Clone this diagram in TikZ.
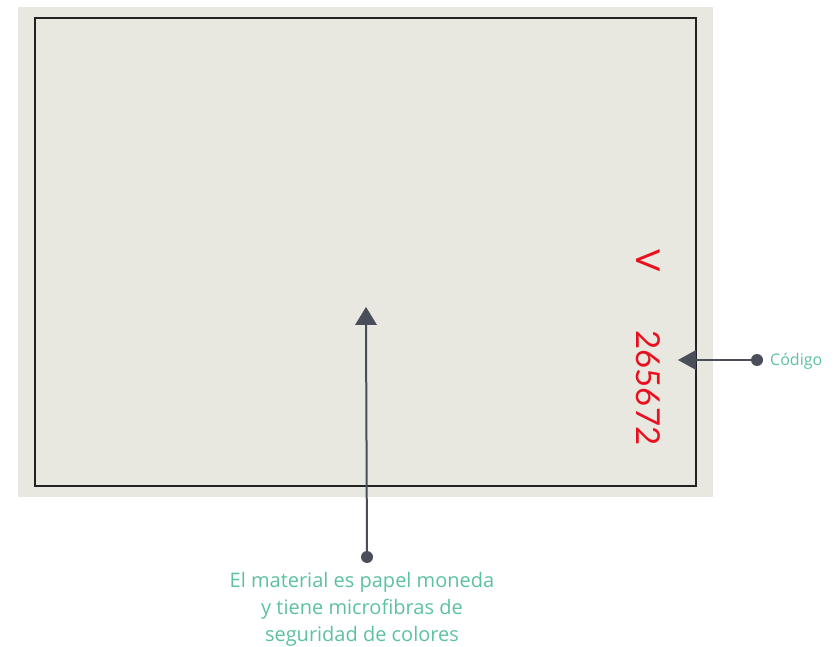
\documentclass[tikz,border=0pt]{standalone}
\usepackage{fontspec}
\setmainfont{Open Sans}
\newfontfamily\codefont{Lato}
\definecolor{paper}{HTML}{E8E7E0}
\definecolor{frame}{HTML}{222222}
\definecolor{pointer}{HTML}{4A4D5A}
\definecolor{teal}{HTML}{5CC1A0}
\definecolor{codered}{HTML}{E8101F}
\tikzset{
  pline/.style={draw=pointer, line width=2pt},
  ptip/.style={fill=pointer, draw=none},
  pdot/.style={circle, fill=pointer, minimum size=12pt, inner sep=0pt},
  label/.style={text=teal, align=center, inner sep=0pt},
  redtxt/.style={text=codered, font=\codefont\fontsize{33}{33}\selectfont, rotate=-90, inner sep=0pt}
}
\begin{document}
\begin{tikzpicture}[x=1pt,y=-1pt]
\useasboundingbox (0,0) rectangle (839,647);
\fill[paper] (18,7) rectangle (713,497);
\draw[frame, line width=2.8pt] (35,18) rectangle (696,486);
% red code
\node[redtxt] (v) at (648,261) {V};
\node[redtxt] (num) at (648,388) {265672};
% central pointer
\coordinate (tipA) at (366,307);
\node[pdot] (dotA) at (367,557) {};
\fill[ptip] (366,307) -- (377,325) -- (355,325) -- cycle;
\draw[pline] (dotA.center) -- (366,325);
\node[label, font=\fontsize{20}{27}\selectfont, anchor=north] (matlbl) at (362,572) {El material es papel moneda\\y tiene microfibras de\\seguridad de colores};
% codigo pointer
\node[pdot] (dotB) at (757,360) {};
\fill[ptip] (678,360) -- (696,350) -- (696,370) -- cycle;
\draw[pline] (dotB.center) -- (696,360);
\node[label, font=\fontsize{16}{18}\selectfont, anchor=west] (codlbl) at (770,361) {Código};
\end{tikzpicture}
\end{document}
